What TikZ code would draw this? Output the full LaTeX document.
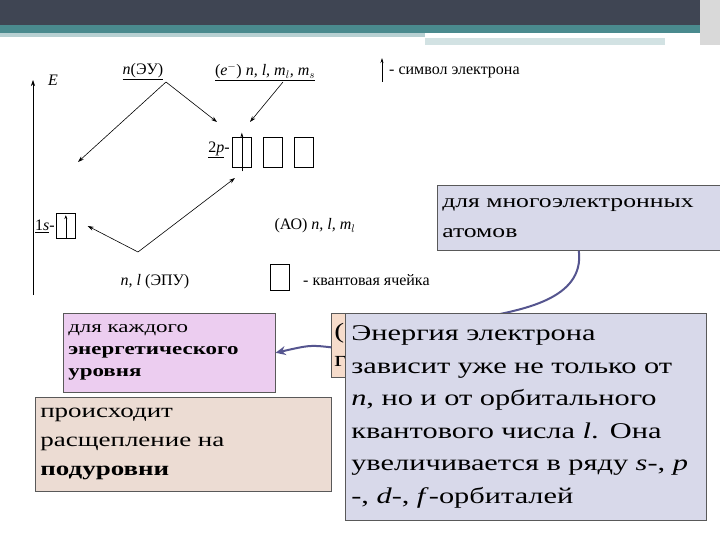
\documentclass[tikz,border=0pt]{standalone}
\usepackage{fontspec}
\setmainfont{Liberation Serif}
\newfontfamily\wide[FakeStretch=1.35]{Liberation Serif}
\usetikzlibrary{arrows.meta}
\definecolor{hdr}{HTML}{3F4553}
\definecolor{teal}{HTML}{4A8A8E}
\definecolor{lav}{HTML}{D8D9EA}
\definecolor{pink}{HTML}{ECCDF0}
\definecolor{beige}{HTML}{ECDCD3}
\definecolor{peach}{HTML}{F6DCCB}
\definecolor{conn}{HTML}{55558F}
\tikzset{
  arr/.style={-{Stealth[length=6pt,width=4pt]},line width=0.6pt},
  cell/.style={draw,line width=0.7pt,minimum width=19pt,minimum height=30pt,inner sep=0},
  lbl/.style={inner sep=1pt,font=\rmfamily\fontsize{16}{17}\selectfont},
  tbox/.style={draw=gray!70!black,line width=0.6pt,align=left,anchor=north west,inner sep=5pt},
}
\begin{document}
\begin{tikzpicture}[x=1pt,y=-1pt]
\useasboundingbox (0,0) rectangle (720,540);
\fill[white] (0,0) rectangle (720,540);
% header
\fill[hdr] (0,0) rectangle (720,25);
\fill[teal] (0,25) rectangle (720,33);
\fill[teal!40] (0,33) rectangle (425,37);
\fill[teal!25] (425,38) rectangle (665,45);
\fill[gray!30] (700,0) rectangle (720,45);
% axis
\draw[arr] (33,295) -- (33,80);
\node[lbl,font=\itshape\fontsize{16}{17}\selectfont] (E) at (53,80) {E};
% labels
\node[lbl] (nEU) at (143,72) {\underline{\textit{n}(ЭУ)}};
\node[lbl] (ee) at (265,72) {\underline{(\textit{e}$^{-}$) \textit{n, l, m$_l$, m$_s$}}};
\coordinate (sym1) at (382,82); \coordinate (sym2) at (382,58);
\draw[-{Stealth[length=5pt,width=3pt]},line width=0.6pt] (sym1) -- (sym2);
\node[lbl,anchor=west] (sym) at (388,72) {- символ электрона};
\coordinate (a1) at (78,162); \coordinate (a2) at (217,122); \coordinate (a3) at (250,122);
\coordinate (nf) at (166,82); \coordinate (ef) at (283,82);
\draw[arr] (nf) -- (a1);
\draw[arr] (nf) -- (a2);
\draw[arr] (ef) -- (a3);
% 2p
\node[lbl,anchor=east] (p2) at (231,150) {\underline{2\textit{p}}-};
\node[cell,anchor=west] (c1) at (232,152) {};
\node[cell,anchor=west] (c2) at (263,152) {};
\node[cell,anchor=west] (c3) at (294,152) {};
\draw[-{Stealth[length=5pt,width=3pt]},line width=0.6pt] ([yshift=-4]c1.south) -- ([yshift=4]c1.north);
% 1s
\node[cell,minimum height=25pt,anchor=west] (cs) at (56,226) {};
\node[lbl,anchor=east] (s1) at (cs.west) {\underline{1\textit{s}}-};
\draw[-{Stealth[length=4pt,width=3pt]},line width=0.6pt] ([yshift=-12]cs.center) -- ([yshift=-2]cs.north);
% bottom
\node[lbl] (epu) at (155,282) {\textit{n, l} (ЭПУ)};
\coordinate (b0) at (138,252); \coordinate (b1) at (235,178);
\draw[arr] (b0) -- ([xshift=12]cs.east);
\draw[arr] (b0) -- (b1);
\node[lbl] (ao) at (315,226) {(АО) \textit{n, l, m$_l$}};
\node[cell,minimum height=26pt] (qc) at (280,277) {};
\node[lbl,anchor=west] (qt) at (302,280) {- квантовая ячейка};
% boxes
\node[tbox,fill=lav,text width=273pt,minimum height=65pt,font=\wide\fontsize{19}{30}\selectfont] (multi) at (437,185) {для многоэлектронных\\атомов};
\node[tbox,fill=pink,text width=202pt,minimum height=79pt,font=\wide\fontsize{17}{22}\selectfont] (each) at (63,313) {для каждого\\\textbf{энергетического}\\\textbf{уровня}};
\node[tbox,fill=beige,text width=286pt,minimum height=94pt,font=\wide\fontsize{20}{29}\selectfont] (split) at (35,397) {происходит\\расщепление на\\\textbf{подуровни}};
\node[tbox,fill=peach,text width=64pt,minimum height=64pt,font=\wide\fontsize{22}{28}\selectfont,inner sep=3pt] (hid) at (331,313) {(\\г};
\draw[conn,line width=2pt] (multi.south) .. controls (585,300) and (520,310) .. (480,318);
\draw[conn,line width=2pt,-{Stealth[length=10pt,width=9pt]}] ([yshift=-2]hid.west) .. controls (310,345) .. (each.east);
\node[tbox,fill=lav,text width=349pt,minimum height=207pt,font=\wide\fontsize{22.5}{32.5}\selectfont,inner sep=6pt] (big) at (345,313) {Энергия электрона\\зависит уже не только от\\\textit{n}, но и от орбитального\\квантового числа \textit{l}. Она\\увеличивается в ряду \textit{s}-, \textit{p}\\-, \textit{d}-, \textit{f}-орбиталей};
\end{tikzpicture}
\end{document}
